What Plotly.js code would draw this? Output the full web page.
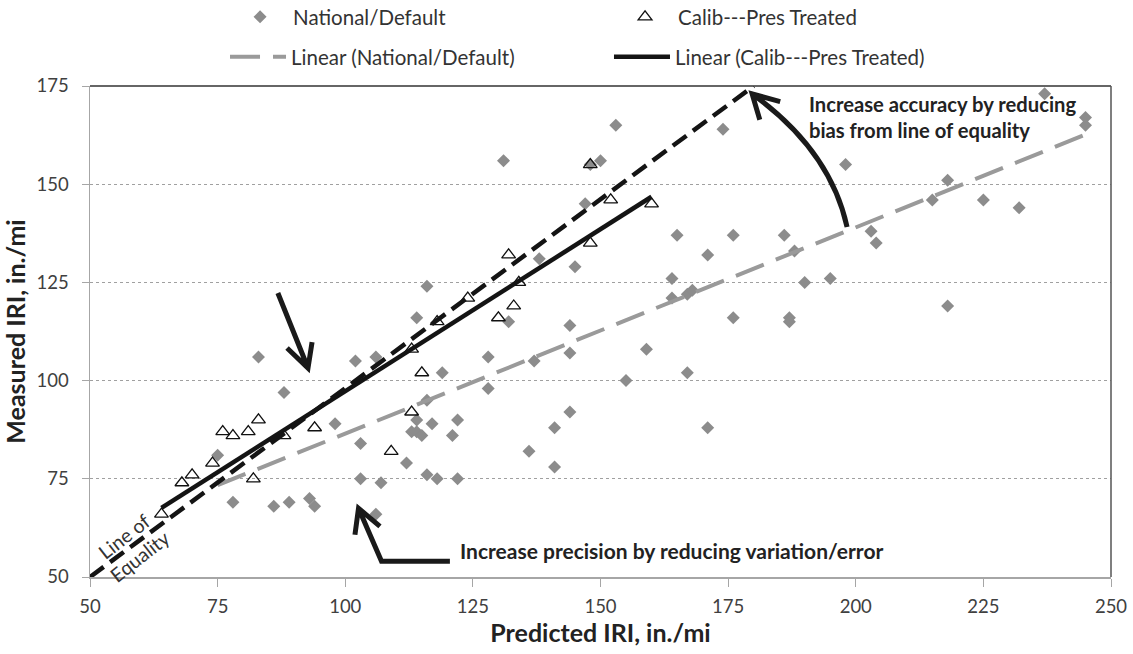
<!DOCTYPE html>
<html><head><meta charset="utf-8">
<script src="https://cdn.plot.ly/plotly-3.0.1.min.js"></script>
<style>html,body{margin:0;padding:0;background:#fff}#chart{width:1133px;height:654px}</style>
</head><body><div id="chart"></div>
<script>
// National/Default (predicted, measured)
const nationalX = [83, 88, 98, 75, 78, 86, 89, 93, 94,
  131, 150, 148, 147, 138, 145, 116, 132, 114, 144,
  102, 106, 119, 128, 128, 137, 144, 116, 114, 117, 122, 113, 114, 115, 121, 103, 112, 136, 141, 144, 141, 103, 107, 116, 118, 122, 106,
  153, 174, 198, 165, 176, 186, 203, 204, 171, 188, 164, 190, 195, 164, 167, 168, 176, 187, 187, 159, 155, 167, 171,
  237, 245, 245, 218, 215, 225, 232, 218];
const nationalY = [106, 97, 89, 81, 69, 68, 69, 70, 68,
  156, 156, 155, 145, 131, 129, 124, 115, 116, 114,
  105, 106, 102, 106, 98, 105, 107, 95, 90, 89, 90, 87, 87, 86, 86, 84, 79, 82, 88, 92, 78, 75, 74, 76, 75, 75, 66,
  165, 164, 155, 137, 137, 137, 138, 135, 132, 133, 126, 125, 126, 121, 122, 123, 116, 116, 115, 108, 100, 102, 88,
  173, 167, 165, 151, 146, 146, 144, 119];
// Calib---Pres Treated
const calibX = [76, 78, 81, 83, 88, 94, 74, 70, 68, 82, 64,
  148, 152, 132, 148, 134, 124, 133, 130, 118, 113, 115, 113, 109, 160];
const calibY = [87, 86, 87, 90, 86, 88, 79, 76, 74, 75, 66,
  155, 146, 132, 135, 125, 121, 119, 116, 115, 108, 102, 92, 82, 145];
// Linear trendlines: [slope, intercept] and x extent
const nationalFitCoef = [0.525, 34.0];
const nationalFitRange = [75, 245.6];
const calibFitCoef = [0.825, 14.8];
const calibFitRange = [64, 160];
// Line of equality
const equalityX = [50, 180];
const equalityY = [50, 175];
// Axis ticks
const xTicks = [50, 75, 100, 125, 150, 175, 200, 225, 250];
const yTicks = [50, 75, 100, 125, 150, 175];

const fitY = (c, xs) => xs.map(x => c[0] * x + c[1]);

const FONT = 'Lato, "Open Sans", sans-serif';
const traces = [
  {x: nationalX, y: nationalY, type: 'scatter', mode: 'markers', name: 'National/Default',
   marker: {symbol: 'diamond', size: 10, color: '#8c8c8c'}, legend: 'legend'},
  {x: calibX, y: calibY, type: 'scatter', mode: 'markers', name: 'Calib---Pres Treated',
   marker: {symbol: 'triangle-up-open', size: 12, color: '#111', line: {width: 1.3, color: '#111'}}, legend: 'legend2'},
  {x: nationalFitRange, y: fitY(nationalFitCoef, nationalFitRange), type: 'scatter', mode: 'lines',
   name: 'Linear (National/Default)', line: {color: '#9a9a9a', width: 4, dash: '30px,13px'}, legend: 'legend3'},
  {x: calibFitRange, y: fitY(calibFitCoef, calibFitRange), type: 'scatter', mode: 'lines',
   name: 'Linear (Calib---Pres Treated)', line: {color: '#141414', width: 4.5}, legend: 'legend4'},
  {x: equalityX, y: equalityY, type: 'scatter', mode: 'lines', showlegend: false, hoverinfo: 'skip',
   line: {color: '#141414', width: 4.5, dash: '17px,8px'}}
];

const legendBase = {orientation: 'h', xref: 'container', yref: 'container', xanchor: 'left', yanchor: 'middle',
  itemwidth: 56, bgcolor: 'rgba(0,0,0,0)', font: {family: FONT, size: 20.5, color: '#333'}};

const arrowLine = {color: '#1a1a1a', width: 5};
const layout = {
  width: 1133, height: 654,
  margin: {l: 90, r: 22, t: 86, b: 77},
  paper_bgcolor: '#fff', plot_bgcolor: '#fff',
  font: {family: FONT, color: '#333'},
  showlegend: true,
  legend: Object.assign({}, legendBase, {x: 0.2004, y: 0.974}),
  legend2: Object.assign({}, legendBase, {x: 0.5402, y: 0.974}),
  legend3: Object.assign({}, legendBase, {x: 0.1986, y: 0.9128}),
  legend4: Object.assign({}, legendBase, {x: 0.5375, y: 0.9128}),
  xaxis: {range: [50, 250], tickvals: xTicks, ticktext: xTicks.map(String), showgrid: false, zeroline: false,
    showline: true, linecolor: '#a6a6a6', linewidth: 1.5, ticks: 'outside', ticklen: 8, tickcolor: '#a6a6a6',
    tickfont: {family: FONT, size: 18.5, color: '#404040'}, ticklabelstandoff: 4,
    title: {text: '<b>Predicted IRI, in./mi</b>', font: {family: FONT, size: 25, color: '#222'}, standoff: 6}},
  yaxis: {range: [50, 175], tickvals: yTicks, ticktext: yTicks.map(String), showgrid: true, gridcolor: '#a0a0a0',
    griddash: 'dot', gridwidth: 1, zeroline: false,
    showline: true, linecolor: '#a6a6a6', linewidth: 1.5, ticks: 'outside', ticklen: 7, tickcolor: '#a6a6a6',
    tickfont: {family: FONT, size: 18.5, color: '#404040'}, ticklabelstandoff: 9,
    title: {text: '<b>Measured IRI, in./mi</b>', font: {family: FONT, size: 25, color: '#222'}, standoff: 4}},
  shapes: [
    {type: 'line', xref: 'paper', yref: 'paper', x0: 0, x1: 1, y0: 1, y1: 1, line: {color: '#333', width: 1.5}},
    {type: 'line', xref: 'paper', yref: 'paper', x0: 1, x1: 1, y0: 0, y1: 1, line: {color: '#555', width: 1.5}},
    {type: 'path', xref: 'x', yref: 'y', line: arrowLine,
     path: 'M86.8,122.3 L92.7,103.2 M88.6,108.3 L92.7,103.2 L93.5,109.8'},
    {type: 'path', xref: 'x', yref: 'y', line: arrowLine,
     path: 'M120.5,54.0 L107.1,54.0 L102.6,67.5 M101.9,60.75 L102.6,67.5 L106.8,62.9'},
    {type: 'path', xref: 'x', yref: 'y', line: arrowLine,
     path: 'M198.3,139.1 Q195.0,158.7 179.7,173.0 M185.2,171.0 L179.7,173.0 L181.2,166.4'}
  ],
  annotations: [
    {xref: 'x', yref: 'y', x: 122.1, y: 56.7, xanchor: 'left', yanchor: 'middle', showarrow: false,
     text: '<b>Increase precision by reducing variation/error</b>', font: {family: FONT, size: 21, color: '#222'}},
    {xref: 'x', yref: 'y', x: 190.5, y: 170.5, xanchor: 'left', yanchor: 'middle', showarrow: false,
     text: '<b>Increase accuracy by reducing</b>', font: {family: FONT, size: 20.2, color: '#222'}},
    {xref: 'x', yref: 'y', x: 190.5, y: 163.9, xanchor: 'left', yanchor: 'middle', showarrow: false,
     text: '<b>bias from line of equality</b>', font: {family: FONT, size: 20.2, color: '#222'}},
    {xref: 'x', yref: 'y', x: 58.2, y: 58.0, xanchor: 'center', yanchor: 'middle', showarrow: false,
     textangle: -38, text: 'Line of<br>Equality', font: {family: FONT, size: 19.5, color: '#333'}}
  ]
};

Plotly.newPlot('chart', traces, layout, {displayModeBar: false, staticPlot: true});
</script>
</body></html>
